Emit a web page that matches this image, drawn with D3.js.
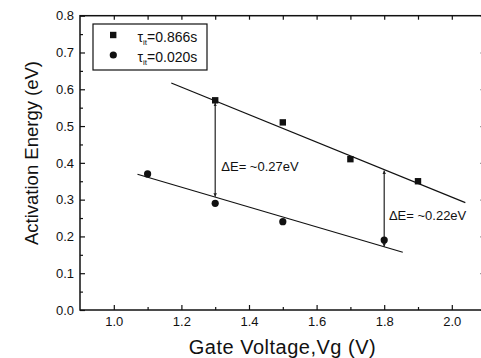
<!DOCTYPE html>
<html>
<head>
<meta charset="utf-8">
<script src="https://cdn.jsdelivr.net/npm/d3@7"></script>
<style>
  body { margin: 0; background: #fff; }
  text, tspan { font-family: "Liberation Sans", Arial, sans-serif; fill: #111; }
</style>
</head>
<body>
<div id="chart"></div>
<script>
// data
var vgSlow = [1.3, 1.5, 1.7, 1.9];
var eaSlow = [0.57, 0.51, 0.41, 0.35];
var vgFast = [1.1, 1.3, 1.5, 1.8];
var eaFast = [0.37, 0.29, 0.24, 0.19];

// fitted lines, end points
var fitSlow = [[1.17, 0.617], [2.04, 0.292]];
var fitFast = [[1.07, 0.369], [1.855, 0.157]];

// delta E arrows
var arrowX = [1.3, 1.8];
var arrowLow = [0.308, 0.172];
var arrowHigh = [0.563, 0.379];
var arrowLabels = ["\u0394E= ~0.27eV", "\u0394E= ~0.22eV"];
var labelX = [1.318, 1.814];
var labelY = [0.379, 0.245];

var xMajor = [1.0, 1.2, 1.4, 1.6, 1.8, 2.0];
var xMinor = [1.1, 1.3, 1.5, 1.7, 1.9];
var yMajor = [0.0, 0.1, 0.2, 0.3, 0.4, 0.5, 0.6, 0.7, 0.8];
var yMinor = [0.05, 0.15, 0.25, 0.35, 0.45, 0.55, 0.65, 0.75];

var W = 481, H = 358;
var margin = {top: 15.7, left: 80};
var width = 405.6, height = 294.3;

var svg = d3.select("#chart")
  .append("svg")
    .attr("width", W)
    .attr("height", H);

var g = svg.append("g")
    .attr("transform", "translate(" + margin.left + "," + margin.top + ")");

var x = d3.scaleLinear().domain([0.9, 2.1]).range([0, width]);
var y = d3.scaleLinear().domain([0, 0.8]).range([height, 0]);

// frame
g.append("rect")
  .attr("x", 0).attr("y", 0)
  .attr("width", width).attr("height", height)
  .attr("fill", "none")
  .attr("stroke", "#111")
  .attr("stroke-width", 1.5);

function styleAxis(sel) {
  sel.select(".domain").remove();
  sel.selectAll("line").attr("stroke", "#111").attr("stroke-width", 1.2);
  sel.selectAll("text").style("font-size", "13px").attr("fill", "#111");
}

// bottom axis
g.append("g")
  .attr("transform", "translate(0," + height + ")")
  .call(d3.axisBottom(x).tickValues(xMajor).tickSizeInner(-5).tickSizeOuter(0)
    .tickPadding(7).tickFormat(d3.format(".1f")))
  .call(styleAxis);
g.append("g")
  .attr("transform", "translate(0," + height + ")")
  .call(d3.axisBottom(x).tickValues(xMinor).tickSizeInner(-3).tickSizeOuter(0).tickFormat(""))
  .call(styleAxis);

// top axis
g.append("g")
  .call(d3.axisTop(x).tickValues(xMajor.concat(xMinor)).tickSizeInner(-4).tickSizeOuter(0).tickFormat(""))
  .call(styleAxis);

// left axis
g.append("g")
  .call(d3.axisLeft(y).tickValues(yMajor).tickSizeInner(-5).tickSizeOuter(0)
    .tickPadding(6).tickFormat(d3.format(".1f")))
  .call(styleAxis);
g.append("g")
  .call(d3.axisLeft(y).tickValues(yMinor).tickSizeInner(-3).tickSizeOuter(0).tickFormat(""))
  .call(styleAxis);

// right axis
g.append("g")
  .attr("transform", "translate(" + width + ",0)")
  .call(d3.axisRight(y).tickValues(yMajor).tickSizeInner(-5).tickSizeOuter(0).tickFormat(""))
  .call(styleAxis);
g.append("g")
  .attr("transform", "translate(" + width + ",0)")
  .call(d3.axisRight(y).tickValues(yMinor).tickSizeInner(-3).tickSizeOuter(0).tickFormat(""))
  .call(styleAxis);

// axis titles
svg.append("text")
  .attr("x", 282.5).attr("y", 354)
  .attr("text-anchor", "middle")
  .style("font-size", "20px")
  .style("letter-spacing", "0.5px")
  .text("Gate Voltage,Vg (V)");

svg.append("text")
  .attr("transform", "translate(38,153) rotate(-90)")
  .attr("text-anchor", "middle")
  .style("font-size", "18.5px")
  .text("Activation Energy (eV)");

// fit lines
var line = d3.line().x(function(d) { return x(d[0]); }).y(function(d) { return y(d[1]); });
[fitSlow, fitFast].forEach(function(f) {
  g.append("path")
    .datum(f)
    .attr("d", line)
    .attr("fill", "none")
    .attr("stroke", "#111")
    .attr("stroke-width", 1.2);
});

// arrow markers
var defs = svg.append("defs");
defs.append("marker")
  .attr("id", "arr")
  .attr("viewBox", "0 0 10 10")
  .attr("refX", 10).attr("refY", 5)
  .attr("markerWidth", 3.5).attr("markerHeight", 3.5)
  .attr("markerUnits", "userSpaceOnUse")
  .attr("orient", "auto-start-reverse")
  .append("path")
    .attr("d", "M0,0L10,5L0,10Z")
    .attr("fill", "#222");

arrowX.forEach(function(v, i) {
  g.append("line")
    .attr("x1", x(v)).attr("x2", x(v))
    .attr("y1", y(arrowLow[i])).attr("y2", y(arrowHigh[i]))
    .attr("stroke", "#222")
    .attr("stroke-width", 1.2)
    .attr("marker-start", "url(#arr)")
    .attr("marker-end", "url(#arr)");
  g.append("text")
    .attr("x", x(labelX[i])).attr("y", y(labelY[i]))
    .style("font-size", "13px")
    .text(arrowLabels[i]);
});

// points
g.selectAll(".sq")
  .data(vgSlow)
  .enter()
  .append("rect")
    .attr("x", function(d) { return x(d) - 3.2; })
    .attr("y", function(d, i) { return y(eaSlow[i]) - 3.2; })
    .attr("width", 6.4).attr("height", 6.4)
    .attr("fill", "#111");

g.selectAll(".ci")
  .data(vgFast)
  .enter()
  .append("circle")
    .attr("cx", function(d) { return x(d); })
    .attr("cy", function(d, i) { return y(eaFast[i]); })
    .attr("r", 3.6)
    .attr("fill", "#111");

// legend
var leg = svg.append("g");
leg.append("rect")
  .attr("x", 93).attr("y", 24)
  .attr("width", 114).attr("height", 46)
  .attr("fill", "#fff")
  .attr("stroke", "#111")
  .attr("stroke-width", 1.2);
leg.append("rect")
  .attr("x", 110).attr("y", 31.8).attr("width", 6.4).attr("height", 6.4)
  .attr("fill", "#111");
leg.append("circle")
  .attr("cx", 113.3).attr("cy", 55).attr("r", 3.6)
  .attr("fill", "#111");

var legText = ["=0.866s", "=0.020s"];
legText.forEach(function(t, i) {
  var tx = leg.append("text")
    .attr("x", 137.5).attr("y", 41.5 + i * 20)
    .attr("fill", "#111")
    .style("font-size", "14px");
  tx.append("tspan").attr("fill", "#111").text("\u03c4");
  tx.append("tspan").attr("dy", 3).attr("fill", "#111").style("font-size", "8px").text("it");
  tx.append("tspan").attr("dy", -3).attr("fill", "#111").text(t);
});
</script>
</body>
</html>
